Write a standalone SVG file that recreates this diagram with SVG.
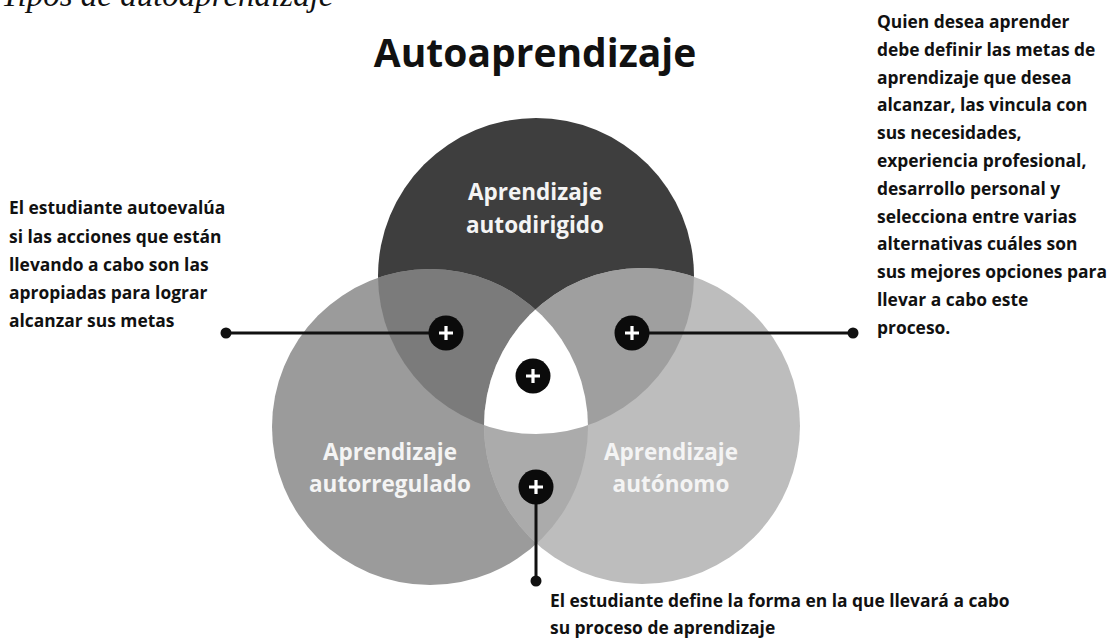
<svg xmlns="http://www.w3.org/2000/svg" width="1110" height="638" viewBox="0 0 1110 638">
  <style>
    .cap { font-family: "Liberation Serif", serif; font-style: italic; font-size: 33px; fill: #111; }
    .title { font-family: "Open Sans", "Noto Sans", sans-serif; font-weight: 700; font-size: 39px; fill: #111; }
    .body { font-family: "Open Sans", "Noto Sans", sans-serif; font-weight: 700; font-size: 17.4px; fill: #111; }
    .lbl { font-family: "Open Sans", "Noto Sans", sans-serif; font-weight: 700; font-size: 22.5px; fill: #f4f4f4; text-anchor: middle; }
    .conn { stroke: #111; stroke-width: 3; fill: none; }
    .dot { fill: #111; }
    .mk { fill: #0b0b0b; }
    .plus { stroke: #fff; stroke-width: 3.2; stroke-linecap: butt; }
  </style>
  <defs>
    <clipPath id="cT"><circle cx="536" cy="276" r="158"/></clipPath>
    <clipPath id="cL"><circle cx="430" cy="427" r="158"/></clipPath>
    <clipPath id="cR"><circle cx="642" cy="426" r="158"/></clipPath>
  </defs>
  <rect width="1110" height="638" fill="#fff"/>
  <text class="cap" x="1" y="6">Tipos de autoaprendizaje</text>
  <text class="title" x="535" y="67" text-anchor="middle">Autoaprendizaje</text>

  <g id="venn">
    <circle cx="536" cy="276" r="158" fill="#3e3e3e"/>
    <circle cx="430" cy="427" r="158" fill="#9b9b9b"/>
    <circle cx="642" cy="426" r="158" fill="#bdbdbd"/>
    <circle cx="430" cy="427" r="158" fill="#7b7b7b" clip-path="url(#cT)"/>
    <circle cx="642" cy="426" r="158" fill="#9f9f9f" clip-path="url(#cT)"/>
    <circle cx="642" cy="426" r="158" fill="#ababab" clip-path="url(#cL)"/>
    <g clip-path="url(#cT)">
      <circle cx="642" cy="426" r="158" fill="#ffffff" clip-path="url(#cL)"/>
    </g>
  </g>

  <g id="node-autodirigido">
    <text class="lbl" x="535" y="200">Aprendizaje</text>
    <text class="lbl" x="535" y="233">autodirigido</text>
  </g>
  <g id="node-autorregulado">
    <text class="lbl" x="390" y="460">Aprendizaje</text>
    <text class="lbl" x="390" y="492">autorregulado</text>
  </g>
  <g id="node-autonomo">
    <text class="lbl" x="671" y="460">Aprendizaje</text>
    <text class="lbl" x="671" y="492">autónomo</text>
  </g>

  <g id="connectors">
    <line class="conn" x1="226" y1="333" x2="446" y2="333"/>
    <circle class="dot" cx="226" cy="333" r="5.5"/>
    <line class="conn" x1="632" y1="333" x2="853" y2="333"/>
    <circle class="dot" cx="853" cy="333" r="5.5"/>
    <line class="conn" x1="536" y1="487" x2="536" y2="581"/>
    <circle class="dot" cx="536" cy="581" r="5.5"/>
  </g>

  <g id="markers">
    <g id="mk-left"><circle class="mk" cx="446" cy="333" r="17.5"/><path class="plus" d="M439 333h14M446 326v14"/></g>
    <g id="mk-right"><circle class="mk" cx="632" cy="333" r="17.5"/><path class="plus" d="M625 333h14M632 326v14"/></g>
    <g id="mk-center"><circle class="mk" cx="533" cy="376" r="17.5"/><path class="plus" d="M526 376h14M533 369v14"/></g>
    <g id="mk-bottom"><circle class="mk" cx="536" cy="487" r="17.5"/><path class="plus" d="M529 487h14M536 480v14"/></g>
  </g>

  <g id="text-left">
    <text class="body" x="9" y="214">El estudiante autoevalúa</text>
    <text class="body" x="9" y="242.5">si las acciones que están</text>
    <text class="body" x="9" y="270.5">llevando a cabo son las</text>
    <text class="body" x="9" y="298.5">apropiadas para lograr</text>
    <text class="body" x="9" y="326.5">alcanzar sus metas</text>
  </g>

  <g id="text-right">
    <text class="body" x="877" y="28">Quien desea aprender</text>
    <text class="body" x="877" y="55.8">debe definir las metas de</text>
    <text class="body" x="877" y="83.6">aprendizaje que desea</text>
    <text class="body" x="877" y="111.4">alcanzar, las vincula con</text>
    <text class="body" x="877" y="139.2">sus necesidades,</text>
    <text class="body" x="877" y="167">experiencia profesional,</text>
    <text class="body" x="877" y="194.8">desarrollo personal y</text>
    <text class="body" x="877" y="222.6">selecciona entre varias</text>
    <text class="body" x="877" y="250.4">alternativas cuáles son</text>
    <text class="body" x="877" y="278.2" textLength="230" lengthAdjust="spacingAndGlyphs">sus mejores opciones para</text>
    <text class="body" x="877" y="306">llevar a cabo este</text>
    <text class="body" x="877" y="333.8">proceso.</text>
  </g>

  <g id="text-bottom">
    <text class="body" x="550" y="607">El estudiante define la forma en la que llevará a cabo</text>
    <text class="body" x="550" y="634">su proceso de aprendizaje</text>
  </g>
</svg>
